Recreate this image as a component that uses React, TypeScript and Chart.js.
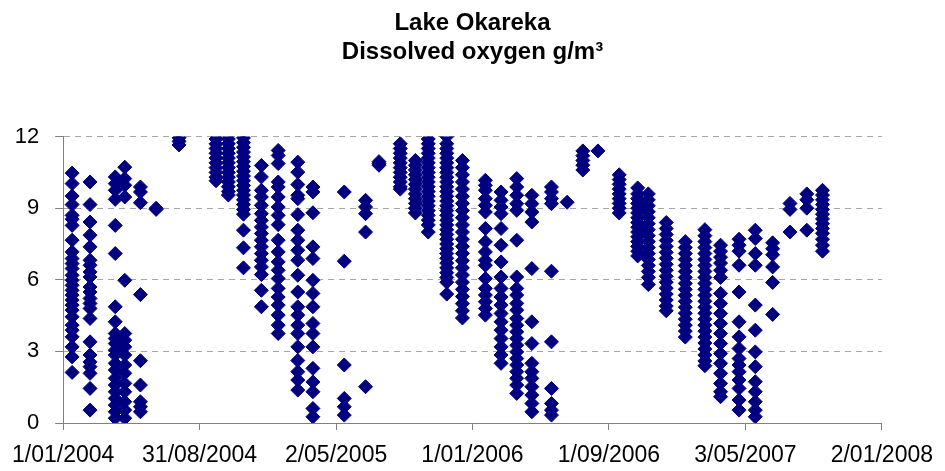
import React, { useEffect, useRef } from "react";
import { Chart, registerables } from "chart.js";

Chart.register(...registerables);

// Sampling dates (one depth profile per date)
const sampleDates: string[] = [
  "2004-01-17", "2004-02-18", "2004-04-03", "2004-04-20", "2004-05-18", "2004-06-15", "2004-07-26",
  "2004-09-30", "2004-10-22", "2004-11-18", "2004-12-20", "2005-01-19", "2005-02-23", "2005-03-22",
  "2005-05-17", "2005-06-24", "2005-07-18", "2005-08-25", "2005-09-21", "2005-10-14", "2005-11-16",
  "2005-12-14", "2006-01-24", "2006-02-21", "2006-03-21", "2006-04-17", "2006-05-22", "2006-06-19",
  "2006-07-17", "2006-08-13", "2006-09-20", "2006-10-23", "2006-11-11", "2006-12-13", "2007-01-16",
  "2007-02-20", "2007-03-20", "2007-04-22", "2007-05-21", "2007-06-21", "2007-07-22", "2007-08-21",
  "2007-09-18",
];

// Dissolved oxygen (g/m3) measured through the water column on each date
const doProfiles: number[][] = [
  [10.47, 10.03, 9.51, 9.15, 8.7, 8.54, 8.28, 7.66, 7.17, 6.89, 6.68, 6.47, 6.19, 5.98, 5.77, 5.56, 5.36, 5.15, 4.94, 4.73, 4.45, 4.1, 3.89, 3.61, 3.19, 2.77, 2.12],
  [10.1, 9.15, 8.42, 7.87, 7.38, 6.82, 6.61, 6.33, 6.12, 5.7, 5.49, 5.22, 5.01, 4.8, 4.38, 3.4, 2.85, 2.56, 2.36, 2.08, 1.45, 0.54],
  [10.31, 10.03, 9.75, 9.37, 8.28, 7.1, 4.87, 4.24, 3.75, 3.54, 3.33, 3.05, 2.85, 2.5, 2.22, 1.87, 1.59, 1.31, 1.03, 0.75, 0.47, 0.2],
  [10.72, 10.24, 9.96, 9.47, 5.98, 3.75, 3.47, 3.19, 2.85, 2.43, 2.08, 1.66, 1.31, 0.89, 0.54, 0.2],
  [9.89, 9.68, 9.23, 5.38, 2.61, 1.59, 0.89, 0.68, 0.47],
  [9.0, 8.95],
  [11.95, 11.8, 11.65],
  [11.9, 11.7, 11.5, 11.3, 11.1, 10.9, 10.7, 10.5, 10.3, 10.15],
  [11.9, 11.7, 11.5, 11.3, 11.1, 10.9, 10.7, 10.5, 10.3, 10.1, 9.9, 9.7, 9.55],
  [11.95, 11.75, 11.55, 11.35, 11.15, 10.95, 10.75, 10.55, 10.35, 10.15, 9.95, 9.75, 9.55, 9.35, 9.15, 8.95, 8.75, 8.08, 7.34, 6.5],
  [10.79, 10.31, 9.75, 9.47, 9.12, 8.77, 8.49, 8.21, 7.94, 7.66, 7.38, 7.1, 6.82, 6.54, 6.22, 5.56, 4.87],
  [11.42, 11.21, 10.87, 10.1, 9.89, 9.47, 9.05, 8.7, 8.31, 7.66, 7.17, 6.75, 6.4, 6.05, 5.64, 5.28, 4.94, 4.52, 4.1, 3.75],
  [10.93, 10.51, 9.99, 9.54, 9.4, 8.73, 8.08, 7.66, 7.24, 6.82, 6.19, 5.49, 4.87, 4.52, 4.1, 3.75, 3.19, 2.62, 2.15, 1.8, 1.38],
  [9.89, 9.68, 8.81, 7.38, 6.89, 5.98, 5.43, 4.87, 4.17, 3.75, 3.19, 2.29, 1.72, 1.31, 0.61, 0.26],
  [9.68, 6.78, 2.43, 1.03, 0.68, 0.33],
  [9.33, 9.05, 8.77, 8.0, 1.52],
  [10.95, 10.87, 10.8],
  [11.7, 11.5, 11.3, 11.1, 10.9, 10.7, 10.5, 10.3, 10.1, 9.9, 9.8],
  [11.0, 10.8, 10.6, 10.4, 10.2, 10.0, 9.8, 9.6, 9.4, 9.2, 9.0, 8.8],
  [11.9, 11.7, 11.5, 11.3, 11.1, 10.9, 10.7, 10.5, 10.3, 10.1, 9.9, 9.7, 9.5, 9.3, 9.1, 8.9, 8.7, 8.5, 8.3, 8.0],
  [12.0, 11.7, 11.5, 11.3, 11.1, 10.9, 10.7, 10.5, 10.3, 10.1, 9.9, 9.7, 9.5, 9.3, 9.1, 8.9, 8.7, 8.5, 8.3, 8.1, 7.9, 7.7, 7.5, 7.3, 7.1, 6.9, 6.7, 6.5, 6.3, 6.1, 5.9, 5.4],
  [11.0, 10.7, 10.4, 10.1, 9.8, 9.5, 9.2, 8.9, 8.6, 8.3, 8.0, 7.7, 7.4, 7.1, 6.8, 6.5, 6.2, 5.9, 5.6, 5.3, 5.0, 4.7, 4.4],
  [10.17, 9.96, 9.75, 9.4, 9.12, 8.84, 8.15, 7.59, 7.17, 6.82, 6.61, 6.05, 5.64, 5.36, 5.08, 4.8, 4.52],
  [9.68, 9.33, 9.05, 8.77, 8.15, 7.45, 6.75, 6.12, 5.64, 5.28, 4.94, 4.59, 4.24, 3.89, 3.54, 3.19, 2.85, 2.5],
  [10.24, 9.89, 9.54, 9.19, 8.91, 7.66, 6.12, 5.64, 5.36, 5.01, 4.73, 4.38, 4.1, 3.82, 3.54, 3.26, 2.98, 2.7, 2.43, 2.15, 1.87, 1.59, 1.24],
  [9.54, 9.19, 8.84, 8.42, 6.47, 4.24, 3.33, 2.5, 2.15, 1.87, 1.52, 1.17, 0.82, 0.47],
  [9.89, 9.68, 9.4, 9.19, 6.36, 3.4, 1.45, 0.82, 0.54, 0.33],
  [9.25],
  [11.4, 11.2, 11.0, 10.8, 10.6],
  [11.4],
  [10.4, 10.2, 10.0, 9.8, 9.6, 9.4, 9.2, 9.0, 8.8],
  [9.85, 9.6, 9.4, 9.2, 9.0, 8.8, 8.6, 8.4, 8.2, 8.0, 7.8, 7.6, 7.4, 7.2, 7.0],
  [9.6, 9.35, 9.1, 8.85, 8.6, 8.35, 8.1, 7.85, 7.6, 7.35, 7.1, 6.85, 6.6, 6.35, 6.1, 5.8],
  [8.4, 8.15, 7.9, 7.65, 7.4, 7.15, 6.9, 6.65, 6.4, 6.15, 5.9, 5.65, 5.4, 5.15, 4.9, 4.7],
  [7.6, 7.35, 7.1, 6.85, 6.6, 6.35, 6.1, 5.85, 5.6, 5.35, 5.1, 4.85, 4.6, 4.35, 4.1, 3.85, 3.6],
  [8.1, 7.85, 7.6, 7.35, 7.1, 6.85, 6.6, 6.35, 6.1, 5.85, 5.6, 5.35, 5.1, 4.85, 4.6, 4.35, 4.1, 3.85, 3.6, 3.35, 3.1, 2.85, 2.6, 2.4],
  [7.45, 7.2, 6.95, 6.7, 6.4, 6.1, 5.43, 5.01, 4.59, 4.17, 3.75, 3.33, 2.91, 2.5, 2.08, 1.66, 1.31, 1.1],
  [7.7, 7.45, 7.2, 6.61, 5.49, 4.24, 3.61, 3.12, 2.7, 2.43, 2.15, 1.8, 1.45, 0.96, 0.54],
  [8.08, 7.73, 7.1, 6.61, 4.94, 3.89, 2.98, 2.36, 1.73, 1.31, 0.89, 0.54, 0.26],
  [7.55, 7.3, 7.05, 6.54, 5.89, 4.55],
  [9.2, 8.95, 8.0],
  [9.6, 9.35, 9.0, 8.08],
  [9.75, 9.55, 9.35, 9.15, 8.95, 8.75, 8.55, 8.35, 8.15, 7.95, 7.7, 7.45, 7.2],
];

const xAxisStart = "2004-01-01";
const xAxisEnd = "2008-01-02";
const xTickLabels: string[] = [
  "1/01/2004", "31/08/2004", "2/05/2005", "1/01/2006", "1/09/2006", "3/05/2007", "2/01/2008",
];
const yMin = 0;
const yMax = 12;
const yStep = 3;

const titleLines: string[] = ["Lake Okareka", "Dissolved oxygen g/m\u00B3"];

const FONT = "'Liberation Sans', Arial, Helvetica, sans-serif";

// Excel-style serial day number
function toSerial(iso: string): number {
  const [y, m, d] = iso.split("-").map(Number);
  return Date.UTC(y, m - 1, d) / 86400000 + 25569;
}

export default function App() {
  const canvasRef = useRef<HTMLCanvasElement | null>(null);

  useEffect(() => {
    document.body.style.margin = "0";
    const canvas = canvasRef.current;
    if (!canvas) return;

    const points: { x: number; y: number }[] = [];
    sampleDates.forEach((d, i) => {
      const x = toSerial(d);
      doProfiles[i].forEach((v) => points.push({ x, y: v }));
    });

    const xMin = toSerial(xAxisStart);
    const xMax = toSerial(xAxisEnd);

    const chart = new Chart(canvas, {
      type: "scatter",
      data: {
        datasets: [
          {
            label: "Dissolved oxygen",
            data: points,
            pointStyle: "rectRot",
            pointRadius: 7,
            pointHoverRadius: 7,
            backgroundColor: "#000080",
            borderColor: "#000080",
            borderWidth: 1,
          },
        ],
      },
      options: {
        responsive: false,
        animation: false,
        events: [],
        layout: { padding: 0 },
        plugins: {
          legend: { display: false },
          tooltip: { enabled: false },
          title: {
            display: true,
            text: titleLines,
            color: "#000",
            font: { family: FONT, size: 24, weight: "bold", lineHeight: 1.2 },
            padding: { top: 9, bottom: 70 },
          },
        },
        scales: {
          x: {
            type: "linear",
            position: "bottom",
            min: xMin,
            max: xMax,
            afterBuildTicks: (scale: any) => {
              const n = xTickLabels.length;
              scale.ticks = xTickLabels.map((_, i) => ({
                value: xMin + (i * (xMax - xMin)) / (n - 1),
              }));
            },
            afterFit: (scale: any) => {
              scale.height = 48;
            },
            ticks: {
              autoSkip: false,
              maxRotation: 0,
              minRotation: 0,
              padding: 12,
              color: "#000",
              font: { family: FONT, size: 23 },
              callback: (_v: any, i: number) => xTickLabels[i],
            },
            grid: {
              drawOnChartArea: false,
              drawTicks: true,
              tickLength: 7,
              tickColor: "#808080",
              tickBorderDash: [],
            },
            border: { display: true, color: "#808080", width: 1 },
          },
          y: {
            type: "linear",
            position: "left",
            min: yMin,
            max: yMax,
            afterFit: (scale: any) => {
              scale.width = 61;
            },
            ticks: {
              stepSize: yStep,
              padding: 16,
              color: "#000",
              font: { family: FONT, size: 22 },
            },
            grid: {
              color: "#a6a6a6",
              lineWidth: 1,
              drawTicks: true,
              tickLength: 8,
              tickColor: "#808080",
              tickBorderDash: [],
            },
            border: { display: true, color: "#808080", width: 1, dash: [6, 5] },
          },
          yr: {
            type: "linear",
            position: "right",
            display: true,
            min: yMin,
            max: yMax,
            afterFit: (scale: any) => {
              scale.width = 57;
            },
            ticks: { display: false },
            grid: { display: false, drawTicks: false },
            border: { display: false },
          },
        },
      },
    } as any);

    return () => {
      chart.destroy();
    };
  }, []);

  return (
    <canvas
      ref={canvasRef}
      width={945}
      height={471}
      style={{ display: "block", width: 945, height: 471 }}
    />
  );
}
